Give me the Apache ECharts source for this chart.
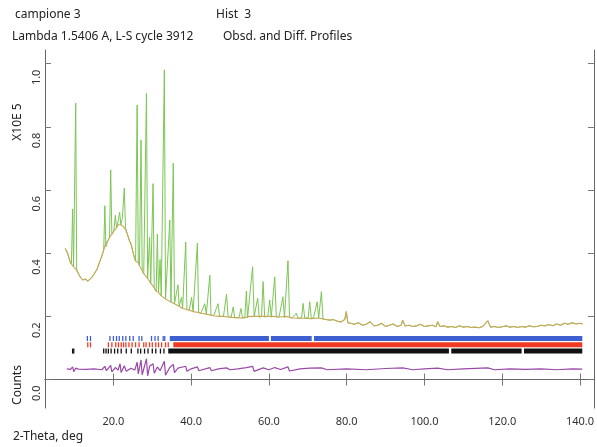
<!DOCTYPE html>
<html>
<head>
<meta charset="utf-8">
<title>campione 3 - Hist 3</title>
<script src="https://cdn.jsdelivr.net/npm/echarts@6/dist/echarts.min.js"></script>
<style>
  html, body { margin: 0; padding: 0; background: #fff; }
  #chart { width: 597px; height: 447px; }
</style>
</head>
<body>
<div id="chart"></div>
<script>
// observed profile, low angle part (2-theta deg / counts x1e5)
var obsHeadX = [7.6, 8.2, 8.8, 9.2, 9.5, 9.75, 10.05, 10.3, 10.55, 11, 11.6, 12.2, 12.8, 13.4, 14, 14.6, 15.2, 15.8, 16.4, 17, 17.5, 17.8, 18.05, 18.6, 19.0, 19.3, 19.6, 20.1, 20.5, 20.8, 21.2, 21.6, 21.9, 22.3, 22.8, 23.1, 23.6, 24.1, 24.5, 24.9, 25.3, 25.7, 26.1, 26.4, 26.7, 27.1, 27.4, 27.8, 28.1, 28.5, 28.8, 29.3, 29.6, 30.2, 30.5, 31.0, 31.3, 31.6, 32.0, 32.3, 32.8, 33.1, 33.4, 33.9, 34.5, 34.8, 35.1, 35.4, 35.7, 36.2, 36.6, 36.9, 37.5, 37.8, 38.3, 38.6, 38.9, 39.5, 40.1, 40.5, 41.0, 41.6, 41.9, 42.5, 43.5, 43.9, 44.4, 44.8, 45.1, 45.8, 46.9, 47.3, 48.3, 49.1, 49.5, 50.3, 50.8, 51.2, 52.3, 52.8, 53.2, 53.8, 54.2, 54.5, 55.0, 55.8, 56.2, 56.7, 57.1, 57.5, 58.1, 58.5, 58.9, 59.7, 60.2, 60.6, 61.1, 61.5, 61.9, 62.6, 63.6, 64.0, 64.5, 64.9, 65.3, 66.0, 67.0, 67.5, 68.4, 68.8, 69.2, 70.1, 70.5, 70.9, 71.5, 72.0, 72.4, 72.8, 73.2, 73.5, 73.9];
var obsHeadY = [0.415, 0.40, 0.375, 0.365, 0.54, 0.36, 0.36, 0.875, 0.35, 0.335, 0.322, 0.315, 0.318, 0.312, 0.318, 0.326, 0.337, 0.35, 0.37, 0.39, 0.41, 0.55, 0.42, 0.44, 0.45, 0.663, 0.46, 0.47, 0.52, 0.48, 0.50, 0.53, 0.49, 0.51, 0.606, 0.48, 0.46, 0.44, 0.43, 0.41, 0.39, 0.375, 0.869, 0.37, 0.36, 0.758, 0.345, 0.335, 0.33, 0.906, 0.32, 0.45, 0.305, 0.62, 0.29, 0.28, 0.46, 0.275, 0.38, 0.265, 0.27, 0.98, 0.255, 0.25, 0.505, 0.245, 0.245, 0.685, 0.24, 0.235, 0.30, 0.232, 0.26, 0.225, 0.225, 0.435, 0.222, 0.22, 0.26, 0.215, 0.215, 0.432, 0.212, 0.21, 0.24, 0.207, 0.205, 0.33, 0.204, 0.202, 0.24, 0.20, 0.20, 0.27, 0.198, 0.198, 0.23, 0.196, 0.196, 0.225, 0.195, 0.195, 0.28, 0.195, 0.20, 0.357, 0.198, 0.20, 0.258, 0.197, 0.20, 0.31, 0.198, 0.20, 0.252, 0.197, 0.20, 0.325, 0.198, 0.198, 0.262, 0.196, 0.20, 0.376, 0.196, 0.195, 0.21, 0.194, 0.196, 0.241, 0.194, 0.196, 0.246, 0.193, 0.196, 0.20, 0.246, 0.195, 0.20, 0.278, 0.192];
// calculated / background, low angle part
var calcHeadX = [7.6, 8.2, 8.8, 9.5, 10.3, 11, 11.6, 12.2, 12.8, 13.4, 14, 14.6, 15.2, 15.8, 16.4, 17, 17.5, 18, 18.6, 19.0, 19.6, 20.1, 20.8, 21.2, 21.9, 22.5, 23.1, 23.6, 24.1, 24.5, 24.9, 25.3, 25.7, 26.4, 26.7, 27.4, 27.8, 28.1, 28.8, 29.6, 30.5, 31, 31.6, 32.3, 33.4, 33.9, 34.8, 35.7, 36.2, 36.9, 37.8, 38.9, 39.5, 40.5, 41.9, 42.5, 43.9, 45.1, 45.8, 47.3, 48.3, 49.5, 51.2, 53.2, 55, 56.7, 58.1, 59.7, 61.1, 62.6, 64.5, 66, 67.5, 69.2, 70.9, 72.8, 73.9];
var calcHeadY = [0.415, 0.40, 0.375, 0.36, 0.35, 0.335, 0.322, 0.315, 0.318, 0.312, 0.318, 0.326, 0.337, 0.35, 0.37, 0.39, 0.41, 0.43, 0.44, 0.45, 0.46, 0.47, 0.48, 0.49, 0.49, 0.485, 0.475, 0.46, 0.44, 0.43, 0.41, 0.39, 0.375, 0.37, 0.36, 0.345, 0.335, 0.33, 0.32, 0.305, 0.29, 0.28, 0.275, 0.265, 0.255, 0.25, 0.245, 0.24, 0.235, 0.232, 0.225, 0.222, 0.22, 0.215, 0.212, 0.21, 0.207, 0.204, 0.202, 0.20, 0.20, 0.198, 0.196, 0.195, 0.20, 0.20, 0.20, 0.20, 0.20, 0.198, 0.20, 0.195, 0.194, 0.194, 0.193, 0.195, 0.192];
// high angle part, obs and calc coincide
var tailX = [74.6, 75.7, 76.5, 77.5, 78.5, 79.5, 79.9, 80.3, 81, 82, 83, 84.1, 85, 86, 87, 88, 89, 90, 91, 92, 93, 94, 94.4, 95, 96, 97, 98, 99, 100, 101, 102, 103, 103.4, 104, 105, 106, 107, 108, 109, 110, 111, 112, 113, 114, 115, 116.3, 117, 118, 119, 120, 121, 122, 123, 124, 125, 126, 127, 128, 129, 130, 131, 132, 133, 134, 135, 136, 137, 138, 139, 140, 140.7];
var tailY = [0.19, 0.188, 0.19, 0.185, 0.182, 0.19, 0.215, 0.18, 0.178, 0.175, 0.18, 0.172, 0.175, 0.183, 0.17, 0.172, 0.178, 0.168, 0.172, 0.176, 0.168, 0.172, 0.188, 0.17, 0.172, 0.168, 0.17, 0.175, 0.168, 0.17, 0.172, 0.167, 0.183, 0.168, 0.17, 0.166, 0.168, 0.165, 0.17, 0.166, 0.168, 0.165, 0.166, 0.164, 0.168, 0.186, 0.166, 0.168, 0.165, 0.167, 0.17, 0.166, 0.168, 0.165, 0.168, 0.166, 0.17, 0.167, 0.168, 0.172, 0.17, 0.174, 0.17, 0.176, 0.172, 0.178, 0.175, 0.18, 0.176, 0.178, 0.176];
// difference curve (offset)
var diffX = [8, 9, 9.5, 9.8, 10.3, 11, 13, 15, 17, 17.8, 18.2, 19.3, 19.6, 20.5, 21.2, 21.7, 22.0, 22.8, 23.3, 24.5, 25.5, 26.1, 26.4, 27.1, 27.4, 28.5, 28.8, 29.3, 30.2, 30.5, 31.3, 32, 33.1, 33.4, 34.5, 35.4, 35.7, 36.6, 38.6, 38.9, 40, 41.6, 42, 44.8, 45.2, 47, 49.1, 50, 52, 54.2, 55.8, 56.2, 58.5, 60, 61.5, 63, 64.9, 65.3, 68, 70.5, 73.5, 75, 80, 85, 90, 94.4, 97, 100, 103.4, 106, 110, 116.3, 118, 122, 126, 130, 134, 138, 140.6];
var diffY = [0.034, 0.032, 0.04, 0.025, 0.036, 0.033, 0.032, 0.034, 0.031, 0.042, 0.028, 0.045, 0.024, 0.038, 0.03, 0.05, 0.022, 0.044, 0.026, 0.036, 0.03, 0.055, 0.018, 0.062, 0.015, 0.066, 0.012, 0.042, 0.05, 0.02, 0.04, 0.028, 0.058, 0.014, 0.038, 0.048, 0.022, 0.036, 0.042, 0.026, 0.034, 0.04, 0.028, 0.038, 0.028, 0.034, 0.037, 0.031, 0.034, 0.038, 0.042, 0.026, 0.037, 0.031, 0.038, 0.032, 0.04, 0.027, 0.034, 0.036, 0.037, 0.031, 0.034, 0.031, 0.035, 0.037, 0.031, 0.034, 0.036, 0.031, 0.034, 0.037, 0.031, 0.034, 0.032, 0.034, 0.031, 0.034, 0.033];
// reflection markers: single ticks and dense runs [from, to]
var blueTicks = [13.3, 14.1, 19.1, 20.0, 20.8, 21.5, 22.4, 23.2, 24.2, 25.1, 26.6, 27.3, 29.8, 30.7, 31.5, 32.8, 33.2];
var blueRuns = [[34.5, 60.0], [60.5, 71.0], [71.6, 140.6]];
var redTicks = [13.4, 14.1, 18.7, 19.6, 20.6, 21.3, 22.0, 22.6, 23.2, 24.0, 24.8, 25.7, 26.6, 27.8, 28.4, 29.3, 30.0, 30.9, 31.6, 32.4, 33.4, 34.1];
var redRuns = [[35.4, 140.6]];
var blackTicks = [9.5, 9.8, 17.5, 18.1, 18.7, 19.4, 20.3, 21.1, 22.0, 23.3, 24.6, 26.3, 27.0, 28.0, 28.9, 30.0, 30.9, 32.1, 33.0];
var blackRuns = [[34.1, 106.3], [106.9, 125.0], [125.6, 140.6]];
var rowLevel = { blue: 0.13, red: 0.11, black: 0.09 };
var xTicks = [20, 40, 60, 80, 100, 120, 140];
var yTicks = [0, 0.2, 0.4, 0.6, 0.8, 1.0];

var chart = echarts.init(document.getElementById('chart'));
var font = '"Noto Sans", "DejaVu Sans", sans-serif';

function pairs(xs, ys) {
  var out = [];
  for (var i = 0; i < xs.length; i++) out.push([xs[i], ys[i]]);
  return out;
}
var obsData = pairs(obsHeadX.concat(tailX), obsHeadY.concat(tailY));
var calcData = pairs(calcHeadX.concat(tailX), calcHeadY.concat(tailY));
var diffData = pairs(diffX, diffY);

function markerData(ticks, runs, level) {
  var d = [];
  ticks.forEach(function (t) { d.push([t, t, level]); });
  runs.forEach(function (r) { d.push([r[0], r[1], level]); });
  return d;
}
function renderMarker(params, api) {
  var a = api.coord([api.value(0), api.value(2)]);
  var b = api.coord([api.value(1), api.value(2)]);
  var single = b[0] - a[0] < 1;
  return {
    type: 'rect',
    shape: { x: single ? a[0] - 0.65 : a[0], y: a[1] - 2.5, width: single ? 1.3 : b[0] - a[0], height: 5 },
    style: { fill: api.visual('color') }
  };
}
function markerSeries(name, color, ticks, runs, level) {
  return {
    name: name, type: 'custom', renderItem: renderMarker,
    itemStyle: { color: color },
    encode: { x: [0, 1], y: 2 },
    data: markerData(ticks, runs, level),
    silent: true, z: 3
  };
}

var axisLine = { show: true, lineStyle: { color: '#666', width: 1 } };
var tickIn = { show: true, inside: true, length: 6, interval: 0, lineStyle: { color: '#777' } };

var option = {
  backgroundColor: '#fff',
  animation: false,
  grid: { left: 45, right: 3, top: 50, bottom: 39 },
  xAxis: [{
    type: 'value', min: 2.4, max: 143.6,
    axisLine: axisLine, splitLine: { show: false },
    axisTick: Object.assign({ customValues: xTicks }, tickIn),
    axisLabel: {
      customValues: xTicks, margin: 8, color: '#333', fontSize: 11, fontFamily: font,
      interval: 0, hideOverlap: false,
      formatter: function (v) { return v.toFixed(1); }
    }
  }, {
    type: 'value', position: 'top', min: 2.4, max: 143.6,
    axisLine: axisLine, splitLine: { show: false },
    axisTick: Object.assign({ customValues: xTicks }, tickIn),
    axisLabel: { show: false }
  }],
  yAxis: [{
    type: 'value', min: -0.09, max: 1.043,
    axisLine: axisLine, splitLine: { show: false },
    axisTick: Object.assign({ customValues: yTicks }, tickIn),
    axisLabel: {
      customValues: yTicks, rotate: 90, align: 'right', verticalAlign: 'middle',
      interval: 0, hideOverlap: false, padding: [0, 6, 0, 0],
      margin: 8, color: '#333', fontSize: 11, fontFamily: font,
      formatter: function (v) { return v.toFixed(1); }
    }
  }, {
    type: 'value', position: 'right', min: -0.09, max: 1.043,
    axisLine: axisLine, splitLine: { show: false },
    axisTick: Object.assign({ customValues: yTicks }, tickIn),
    axisLabel: { show: false }
  }],
  graphic: [
    { type: 'text', left: 15, top: 9, style: { text: 'campione 3', font: '12px ' + font, fill: '#222' } },
    { type: 'text', left: 216, top: 9, style: { text: 'Hist  3', font: '12px ' + font, fill: '#222' } },
    { type: 'text', left: 12, top: 31, style: { text: 'Lambda 1.5406 A, L-S cycle 3912', font: '12px ' + font, fill: '#222' } },
    { type: 'text', left: 223, top: 31, style: { text: 'Obsd. and Diff. Profiles', font: '12px ' + font, fill: '#222' } },
    { type: 'text', x: 18, y: 122, rotation: Math.PI / 2,
      style: { text: 'X10E 5', font: '12px ' + font, fill: '#222', align: 'center', verticalAlign: 'middle' } },
    { type: 'text', x: 18, y: 385, rotation: Math.PI / 2,
      style: { text: 'Counts', font: '12px ' + font, fill: '#222', align: 'center', verticalAlign: 'middle' } },
    { type: 'text', left: 13, top: 431, style: { text: '2-Theta, deg', font: '12px ' + font, fill: '#222' } }
  ],
  series: [
    {
      name: 'Obsd', type: 'line', data: obsData, showSymbol: false, silent: true,
      lineStyle: { color: '#7cc655', width: 1 }, z: 2
    },
    {
      name: 'Calc', type: 'line', data: calcData, showSymbol: false, silent: true,
      lineStyle: { color: '#c9a85a', width: 1.1 }, z: 3
    },
    {
      name: 'Diff', type: 'line', data: diffData, showSymbol: false, silent: true,
      lineStyle: { color: '#9b48a8', width: 1.2 }, z: 3
    },
    markerSeries('Phase 1', '#3f5fd0', blueTicks, blueRuns, rowLevel.blue),
    markerSeries('Phase 2', '#f03a24', redTicks, redRuns, rowLevel.red),
    markerSeries('Phase 3', '#111111', blackTicks, blackRuns, rowLevel.black)
  ]
};
chart.setOption(option);
</script>
</body>
</html>
